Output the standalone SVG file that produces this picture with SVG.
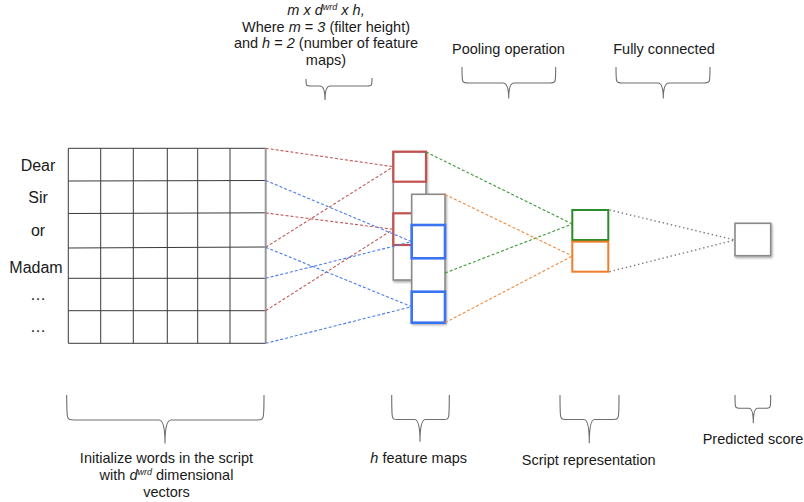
<svg xmlns="http://www.w3.org/2000/svg" width="804" height="502" viewBox="0 0 804 502">
  <style>
    text { font-family: "Liberation Sans", Arial, sans-serif; fill: #1a1a1a; }
    .lbl { font-size: 14.5px; text-anchor: middle; }
    .word { font-size: 16px; text-anchor: middle; }
    .it { font-style: italic; }
    .sup { font-size: 9px; font-style: italic; }
    .grid line { stroke: #3a3a3a; stroke-width: 1; }
    .brace { fill: none; stroke: #6e6e6e; stroke-width: 1.1; }
    .map { fill: #ffffff; stroke: #8a8a8a; stroke-width: 1.6; }
    .red { fill: none; stroke: #c4514f; stroke-width: 2.2; }
    .blue { fill: none; stroke: #3b74f2; stroke-width: 2.6; }
    .green { fill: none; stroke: #2f8a2a; stroke-width: 2; }
    .orange { fill: none; stroke: #f07d2a; stroke-width: 2; }
    .c { fill: none; stroke-width: 1.1; stroke-dasharray: 3 2; }
    .c-red { stroke: #c25a5a; }
    .c-blue { stroke: #4a7cf0; }
    .c-green { stroke: #3a9a34; }
    .c-orange { stroke: #f08a3a; }
    .c-dot { stroke: #7a7a7a; stroke-width: 1.4; stroke-dasharray: 1.4 2.8; }
  </style>
  <defs>
    <filter id="shadow" x="-30%" y="-30%" width="160%" height="160%">
      <feDropShadow dx="1" dy="1.5" stdDeviation="1.2" flood-color="#000" flood-opacity="0.35"/>
    </filter>
  </defs>

  <rect width="804" height="502" fill="#ffffff"/>

  <!-- header labels -->
  <g id="label-filter">
    <text class="lbl it" x="326" y="15">m x d<tspan class="sup" dy="-5">wrd</tspan><tspan dy="5"> x h,</tspan></text>
    <text class="lbl" x="326" y="31.7">Where <tspan class="it">m</tspan> = <tspan class="it">3</tspan> (filter height)</text>
    <text class="lbl" x="326" y="48.4">and <tspan class="it">h</tspan> = <tspan class="it">2</tspan> (number of feature</text>
    <text class="lbl" x="326" y="65">maps)</text>
    <path class="brace" d="M306,79 C306,86 306,86 311,86 L320,86 Q325,86 325,100 Q325,86 330,86 L367,86 C372,86 372,86 372,78"/>
  </g>
  <g id="label-pooling">
    <text class="lbl" x="508.5" y="54">Pooling operation</text>
    <path class="brace" d="M462,67 C462,83 462,83 468,83 L503,83 Q508.7,83 508.7,98.5 Q508.7,83 514,83 L550,83 C555.7,83 555.7,83 555.7,67"/>
  </g>
  <g id="label-fc">
    <text class="lbl" x="664" y="54">Fully connected</text>
    <path class="brace" d="M616,67 C616,83 616,83 622,83 L658,83 Q663.3,83 663.3,98.5 Q663.3,83 669,83 L704,83 C710,83 710,83 710,67"/>
  </g>

  <!-- word embedding matrix -->
  <g id="embedding">
    <text class="word" x="38" y="171.3">Dear</text>
    <text class="word" x="38" y="203.3">Sir</text>
    <text class="word" x="38" y="236">or</text>
    <text class="word" x="36" y="273.3">Madam</text>
    <text class="word" x="38" y="299.5">…</text>
    <text class="word" x="38" y="331.7">…</text>
    <g class="grid">
      <line x1="68.3" y1="148.3" x2="265.7" y2="148.3"/>
      <line x1="68.3" y1="181" x2="265.7" y2="180.5"/>
      <line x1="68.3" y1="213.5" x2="265.7" y2="212.8"/>
      <line x1="68.3" y1="248" x2="265.7" y2="247"/>
      <line x1="68.3" y1="278.3" x2="265.7" y2="278.3"/>
      <line x1="68.3" y1="310.7" x2="265.7" y2="310.7"/>
      <line x1="68.3" y1="343.3" x2="265.7" y2="343.3"/>
      <line x1="68.3" y1="148.3" x2="68.3" y2="343.3"/>
      <line x1="100.7" y1="148.3" x2="100.7" y2="343.3"/>
      <line x1="133.3" y1="148.3" x2="133.3" y2="343.3"/>
      <line x1="167.3" y1="148.3" x2="167.3" y2="343.3"/>
      <line x1="197.7" y1="148.3" x2="197.7" y2="343.3"/>
      <line x1="230" y1="148.3" x2="230" y2="343.3"/>
    </g>
    <line x1="265.7" y1="148.3" x2="265.7" y2="343.3" stroke="#999" stroke-width="2"/>
  </g>

  <!-- first feature map (back) -->
  <g id="feature-map-1">
    <rect class="map" x="393.3" y="151.7" width="32.7" height="128.3" filter="url(#shadow)"/>
    <rect class="red" x="393.3" y="151.7" width="32.7" height="30"/>
    <rect class="red" x="393.3" y="213.3" width="32.7" height="31.7"/>
  </g>

  <!-- second feature map (front) -->
  <g id="feature-map-2">
    <rect class="map" x="411.7" y="194.3" width="33.3" height="128.4" filter="url(#shadow)"/>
    <rect class="blue" x="411.7" y="225" width="33.3" height="33.3"/>
    <rect class="blue" x="411.7" y="291.7" width="33.3" height="31"/>
  </g>

  <!-- pooled script representation -->
  <g id="script-representation">
    <rect class="green" x="572.3" y="210" width="36" height="30" fill="#fff"/>
    <rect class="orange" x="572.3" y="241.7" width="36" height="30" fill="#fff"/>
  </g>

  <!-- output score -->
  <g id="predicted-score">
    <rect class="map" x="735" y="223.3" width="35.7" height="32.4" filter="url(#shadow)"/>
  </g>

  <!-- connectors -->
  <g id="connectors">
    <line class="c c-red" x1="265.7" y1="148.3" x2="393.3" y2="166.7"/>
    <line class="c c-red" x1="265.7" y1="247.3" x2="393.3" y2="166.7"/>
    <line class="c c-red" x1="265.7" y1="213" x2="393.3" y2="229.3"/>
    <line class="c c-red" x1="265.7" y1="310.7" x2="393.3" y2="229.3"/>
    <line class="c c-blue" x1="265.7" y1="180.5" x2="411.7" y2="241.7"/>
    <line class="c c-blue" x1="265.7" y1="278.3" x2="411.7" y2="241.7"/>
    <line class="c c-blue" x1="265.7" y1="247.3" x2="411.7" y2="306.7"/>
    <line class="c c-blue" x1="265.7" y1="343.3" x2="411.7" y2="306.7"/>
    <line class="c c-green" x1="426" y1="152" x2="572.3" y2="224"/>
    <line class="c c-green" x1="445" y1="273" x2="572.3" y2="224"/>
    <line class="c c-orange" x1="445" y1="194.5" x2="572.3" y2="256"/>
    <line class="c c-orange" x1="445" y1="322.7" x2="572.3" y2="256"/>
    <line class="c c-dot" x1="609.5" y1="210" x2="735" y2="240"/>
    <line class="c c-dot" x1="609.5" y1="271.7" x2="735" y2="240"/>
  </g>

  <!-- footer labels -->
  <g id="label-embedding">
    <path class="brace" d="M66.7,395 C66.7,420 66.7,420 74,420 L159,420 Q165,420 165,443.5 Q165,420 171,420 L257,420 C264,420 264,420 264,395"/>
    <text class="lbl" x="166.5" y="463.3">Initialize words in the script</text>
    <text class="lbl" x="166.5" y="480">with <tspan class="it">d</tspan><tspan class="sup" dy="-5">wrd</tspan><tspan dy="5"> dimensional</tspan></text>
    <text class="lbl" x="166.5" y="496.5">vectors</text>
  </g>
  <g id="label-maps">
    <path class="brace" d="M391.7,395 C391.7,419.5 391.7,419.5 397,419.5 L414.5,419.5 Q420,419.5 420,441.7 Q420,419.5 425.5,419.5 L444,419.5 C449.3,419.5 449.3,419.5 449.3,395"/>
    <text class="lbl" x="418.7" y="463"><tspan class="it">h</tspan> feature maps</text>
  </g>
  <g id="label-representation">
    <path class="brace" d="M560,395 C560,419.5 560,419.5 565.5,419.5 L584,419.5 Q589.3,419.5 589.3,443.3 Q589.3,419.5 594.5,419.5 L613.5,419.5 C619,419.5 619,419.5 619,395"/>
    <text class="lbl" x="588.7" y="464.5">Script representation</text>
  </g>
  <g id="label-score">
    <path class="brace" d="M735,395 C735,408.3 735,408.3 740,408.3 L749,408.3 Q753.3,408.3 753.3,423.3 Q753.3,408.3 757.5,408.3 L766,408.3 C770.7,408.3 770.7,408.3 770.7,395"/>
    <text class="lbl" x="753" y="444">Predicted score</text>
  </g>
</svg>
